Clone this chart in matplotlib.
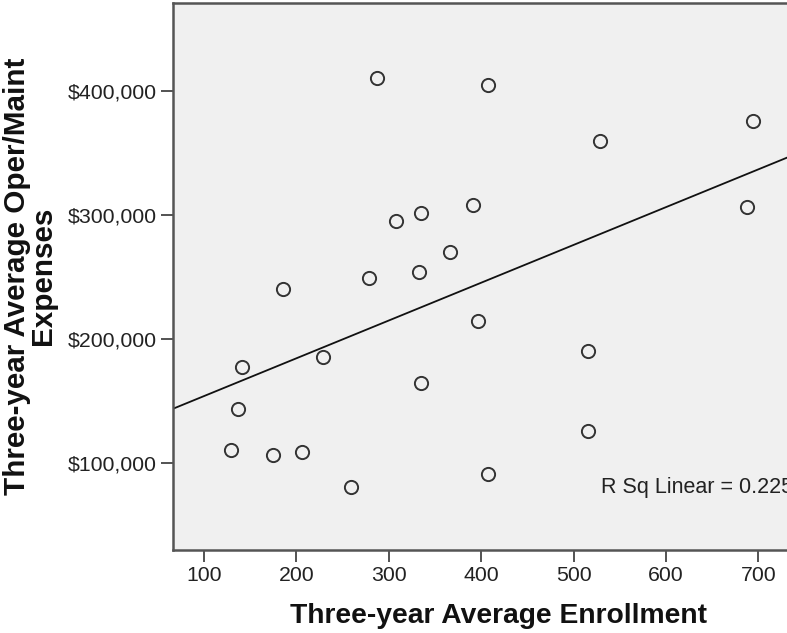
import numpy as np
import matplotlib
matplotlib.use("Agg")
import matplotlib.pyplot as plt
from matplotlib.ticker import FuncFormatter

# Three-year average enrollment vs three-year average oper/maint expenses
enrollment = [287.6, 407.6, 391.4, 335.3, 307.5, 365.9, 332.6, 279.0, 185.8,
              396.3, 140.8, 229.1, 334.6, 136.5, 128.9, 174.4, 205.7, 258.8,
              406.9, 528.6, 694.0, 687.7, 516.0, 516.0]
expenses = [410000, 404600, 308000, 301300, 295100, 270400, 254300, 249400, 240100,
            214600, 177800, 185800, 164400, 144000, 110700, 106700, 109300, 81200,
            91400, 359700, 375600, 306600, 190400, 126200]
x_ticks = [100, 200, 300, 400, 500, 600, 700]
y_ticks = [100000, 200000, 300000, 400000]
r2_label = "R Sq Linear = 0.225"

plt.rcParams['font.family'] = ['Liberation Sans', 'DejaVu Sans']

W, H = 787, 633
fig = plt.figure(figsize=(W / 100, H / 100), dpi=100)
fig.patch.set_facecolor('white')

left_px, right_px, top_px, bottom_px = 173, 800, 3, 550
ax = fig.add_axes([left_px / W, (H - bottom_px) / H,
                   (right_px - left_px) / W, (bottom_px - top_px) / H])
ax.set_facecolor('#f0f0f0')

xlim = (66.4, 745.2)
ylim = (30200, 470600)
ax.set_xlim(*xlim)
ax.set_ylim(*ylim)

# regression line from data
slope, intercept = np.polyfit(enrollment, expenses, 1)
xs = np.array(xlim)
ax.plot(xs, slope * xs + intercept, color='#111111', lw=1.3, zorder=2)

ax.plot(enrollment, expenses, linestyle='none', marker='o', markersize=9.5,
        markerfacecolor='none', markeredgecolor='#333333', markeredgewidth=1.4,
        zorder=3)

ax.set_xticks(x_ticks)
ax.set_yticks(y_ticks)
ax.yaxis.set_major_formatter(FuncFormatter(lambda v, p: f"${v:,.0f}"))
ax.tick_params(direction='out', length=8.5, width=1.3, color='#444444',
               labelsize=15.3, labelcolor='#222222', pad=3)
for s in ax.spines.values():
    s.set_color('#555555')
    s.set_linewidth(1.8)

ax.text(601 / W, (H - 488) / H, r2_label, transform=fig.transFigure,
        fontsize=15.5, color='#222222', ha='left', va='center', clip_on=False)

fig.text(498 / W, (H - 616) / H,
         "Three-year Average Enrollment", ha='center', va='center',
         fontsize=20.3, fontweight='bold', color='#111111')

fig.text(30 / W, (H - 276) / H,
         "Three-year Average Oper/Maint\nExpenses", ha='center', va='center',
         rotation=90, fontsize=21.3, fontweight='bold', color='#111111',
         multialignment='center', linespacing=0.92)

fig.savefig('out.png', dpi=100, facecolor='white')
